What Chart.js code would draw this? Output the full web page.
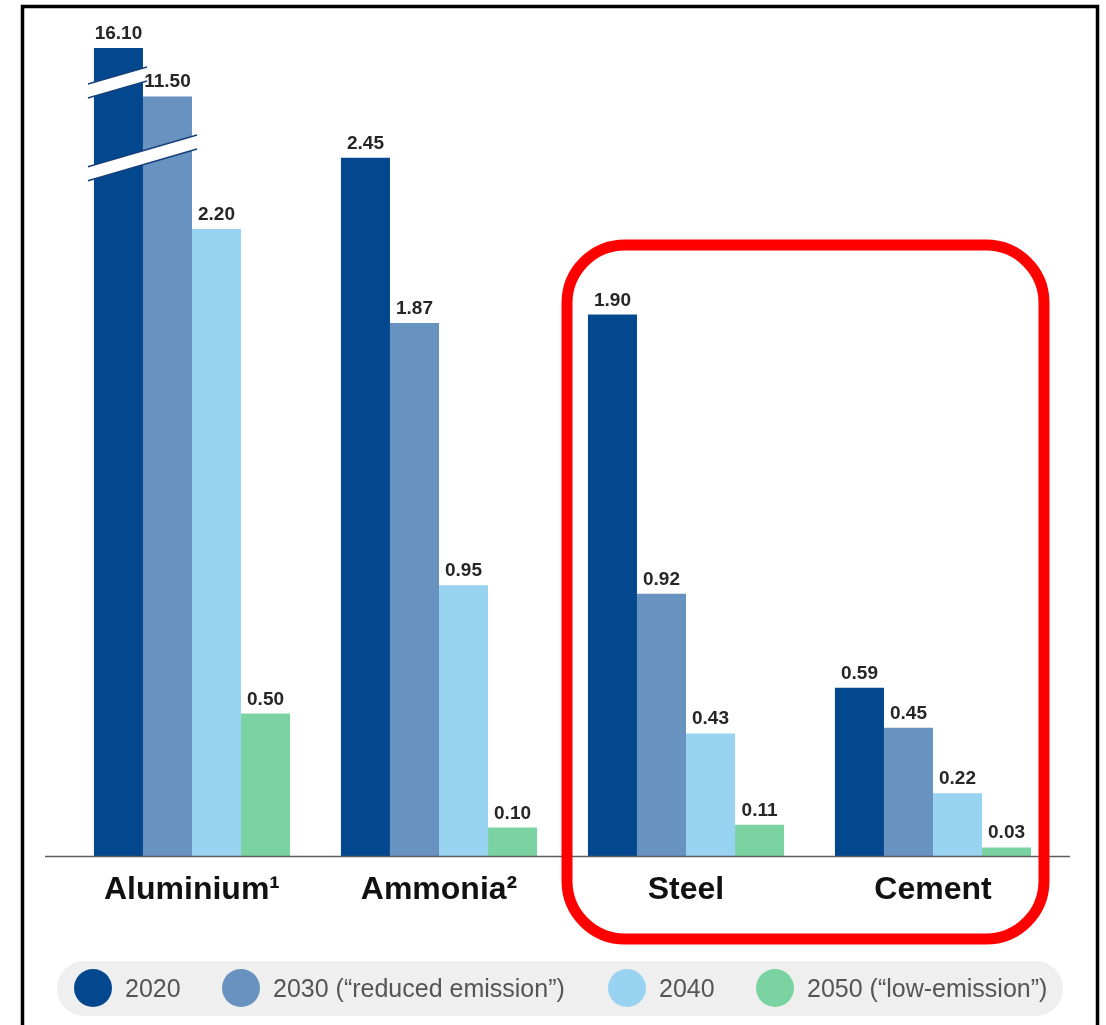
<!DOCTYPE html>
<html>
<head>
<meta charset="utf-8">
<script src="https://cdn.jsdelivr.net/npm/chart.js@4.4.1/dist/chart.umd.min.js"></script>
<style>
  html, body { margin: 0; padding: 0; background: #fff; }
  #wrap { width: 1106px; height: 1025px; }
</style>
</head>
<body>
<div id="wrap"><canvas id="mycanvas" width="1106" height="1025"></canvas></div>
<script>
// categories and series
var categories = ['Aluminium¹', 'Ammonia²', 'Steel', 'Cement'];
var seriesNames = ['2020', '2030 (“reduced emission”)', '2040', '2050 (“low-emission”)'];
var seriesColors = ['#03488f', '#6892c0', '#98d3f1', '#7bd3a2'];

// values (same unit for all)
var v2020 = [16.10, 2.45, 1.90, 0.59];
var v2030 = [11.50, 1.87, 0.92, 0.45];
var v2040 = [2.20, 0.95, 0.43, 0.22];
var v2050 = [0.50, 0.10, 0.11, 0.03];

// the axis is broken for the two big Aluminium bars: height they are drawn at
var axisMax = 3.0;
var brokenTop2020 = 2.835;
var brokenTop2030 = 2.665;

function plotted(values, brokenTop) {
	var out = [];
	for (var i in values) {
		out.push(values[i] > axisMax ? brokenTop : values[i]);
	}
	return out;
}

var allValues = [v2020, v2030, v2040, v2050];
var chartdata = {
	labels: categories,
	datasets: [
		{ label: seriesNames[0], backgroundColor: seriesColors[0], data: plotted(v2020, brokenTop2020) },
		{ label: seriesNames[1], backgroundColor: seriesColors[1], data: plotted(v2030, brokenTop2030) },
		{ label: seriesNames[2], backgroundColor: seriesColors[2], data: v2040 },
		{ label: seriesNames[3], backgroundColor: seriesColors[3], data: v2050 }
	]
};

var FONT = '"Liberation Sans", Arial, Helvetica, sans-serif';

// white frame, axis line, value labels, break marks, red box, legend
var extras = {
	id: 'extras',
	beforeDraw: function(chart) {
		var c = chart.ctx;
		c.save();
		c.fillStyle = '#ffffff';
		c.fillRect(0, 0, chart.width, chart.height);
		c.restore();
	},
	afterDatasetsDraw: function(chart) {
		var c = chart.ctx;
		var area = chart.chartArea;
		c.save();

		// baseline
		c.strokeStyle = '#5c5c5c';
		c.lineWidth = 1.6;
		c.beginPath();
		c.moveTo(45, area.bottom + 0.5);
		c.lineTo(1070, area.bottom + 0.5);
		c.stroke();

		// break marks on the Aluminium bars
		var y = chart.scales.y;
		var b0 = chart.getDatasetMeta(0).data[0];
		var b1 = chart.getDatasetMeta(1).data[0];
		var w0 = b0.width / 2, w1 = b1.width / 2;
		function brk(x1, x2, yc, xc) {
			var slope = -0.29, half = 7;
			var ya = yc + (x1 - xc) * -slope * -1, yb = yc + (x2 - xc) * -slope * -1;
			ya = yc - slope * (xc - x1);
			yb = yc + slope * (x2 - xc);
			c.fillStyle = '#ffffff';
			c.beginPath();
			c.moveTo(x1, ya - half);
			c.lineTo(x2, yb - half);
			c.lineTo(x2, yb + half);
			c.lineTo(x1, ya + half);
			c.closePath();
			c.fill();
			c.strokeStyle = '#17407a';
			c.lineWidth = 1.5;
			c.beginPath();
			c.moveTo(x1, ya - half); c.lineTo(x2, yb - half);
			c.moveTo(x1, ya + half); c.lineTo(x2, yb + half);
			c.stroke();
		}
		brk(b0.x - w0 - 6, b0.x + w0 + 4, y.getPixelForValue(2.715), b0.x);
		brk(b0.x - w0 - 6, b1.x + w1 + 5, y.getPixelForValue(2.45), b1.x - w1);

		// value labels
		c.fillStyle = '#262626';
		c.font = 'bold 19px ' + FONT;
		c.textAlign = 'center';
		c.textBaseline = 'alphabetic';
		for (var d = 0; d < allValues.length; d++) {
			var meta = chart.getDatasetMeta(d);
			for (var i = 0; i < meta.data.length; i++) {
				var bar = meta.data[i];
				c.fillText(allValues[d][i].toFixed(2), bar.x, bar.y - 9);
			}
		}
		c.restore();
	},
	afterDraw: function(chart) {
		var c = chart.ctx;
		c.save();

		// red highlight box round Steel and Cement
		c.strokeStyle = '#ff0000';
		c.lineWidth = 11;
		c.beginPath();
		c.roundRect(567, 245, 477, 694, 58);
		c.stroke();

		// legend pill
		c.fillStyle = '#efefef';
		c.beginPath();
		c.roundRect(57, 961, 1006, 55, 27);
		c.fill();

		var circleX = [93, 241, 627, 775];
		c.font = '25px ' + FONT;
		c.textBaseline = 'middle';
		c.textAlign = 'left';
		for (var k = 0; k < seriesNames.length; k++) {
			c.fillStyle = seriesColors[k];
			c.beginPath();
			c.arc(circleX[k], 988, 19, 0, Math.PI * 2);
			c.fill();
			c.fillStyle = '#555555';
			c.fillText(seriesNames[k], circleX[k] + 32, 990);
		}

		// black frame of the picture
		c.strokeStyle = '#000000';
		c.lineWidth = 3.5;
		c.strokeRect(22.5, 6.5, 1075, 1030);
		c.restore();
	}
};

var ctx = document.getElementById('mycanvas');

var barGraph = new Chart(ctx, {
	type: 'bar',
	data: chartdata,
	options: {
		responsive: false,
		animation: false,
		events: [],
		layout: { padding: { left: 68.5, right: 49.5, top: 1, bottom: 109 } },
		datasets: { bar: { barPercentage: 1, categoryPercentage: 0.794 } },
		plugins: {
			legend: { display: false },
			tooltip: { enabled: false }
		},
		scales: {
			x: {
				grid: { display: false, drawTicks: false },
				border: { display: false },
				ticks: {
					color: '#111111',
					padding: 15,
					font: { family: FONT, size: 32, weight: 'bold' }
				},
				afterFit: function(scale) { scale.height = 60; }
			},
			y: {
				display: false,
				min: 0,
				max: axisMax
			}
		}
	},
	plugins: [extras]
});
</script>
</body>
</html>
